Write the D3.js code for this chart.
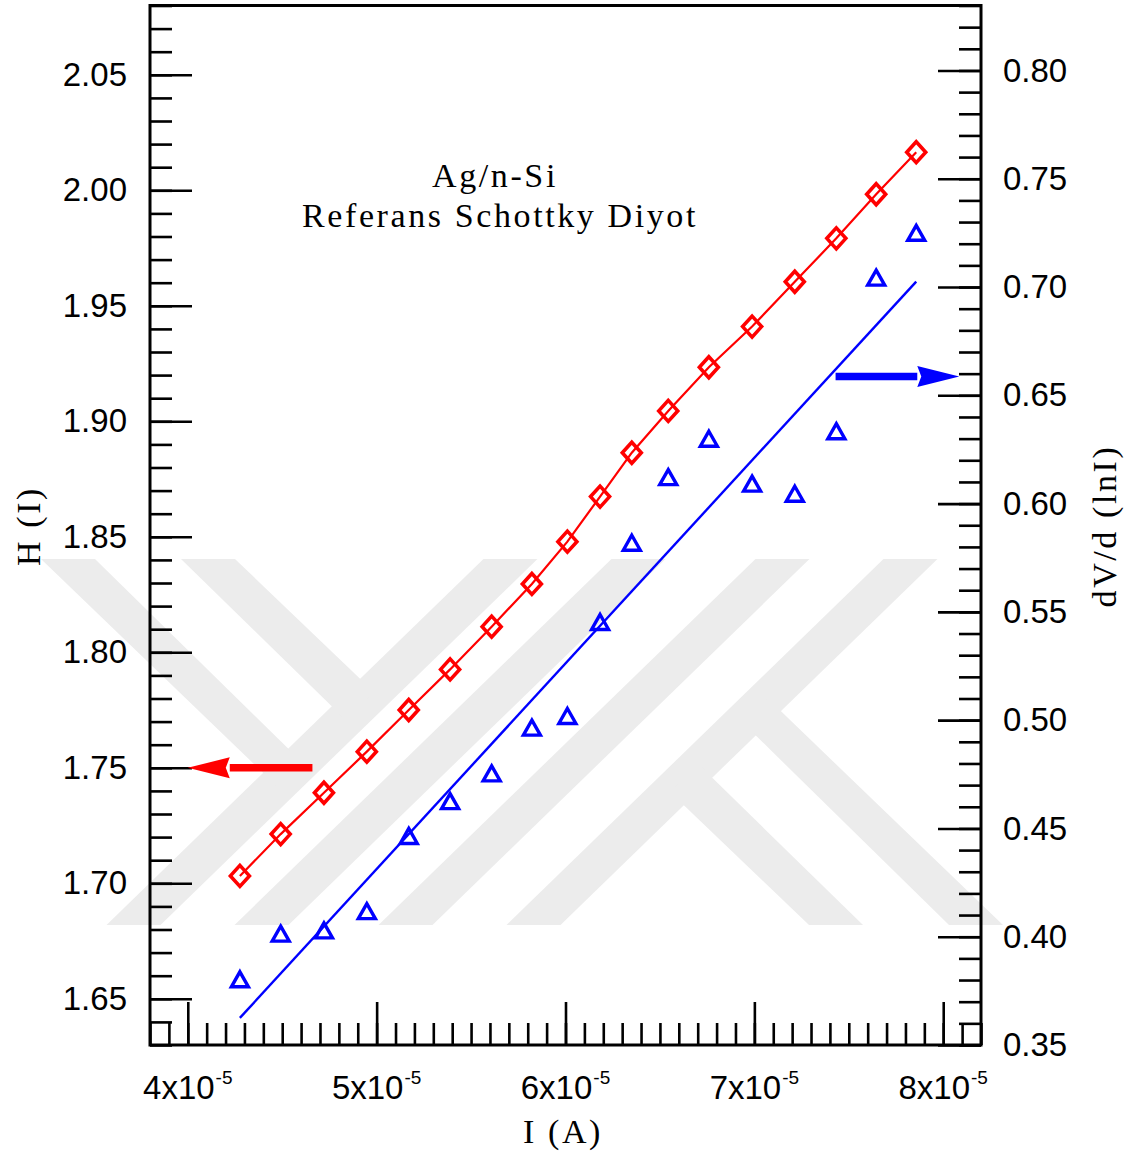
<!DOCTYPE html>
<html>
<head>
<meta charset="utf-8">
<script src="https://cdn.jsdelivr.net/npm/d3@7"></script>
<style>
  body { margin: 0; background: #fff; }
  .tick text { font-family: "Liberation Sans", Arial, sans-serif; font-size: 33px; fill: #000; }
  .serif { font-family: "Liberation Serif", "Times New Roman", serif; font-size: 34px; letter-spacing: 2.6px; fill: #000; }
</style>
</head>
<body>
<svg id="chart"></svg>
<script>
// Current I (A), shared by both series
const currentA = [4.276e-5, 4.492e-5, 4.721e-5, 4.948e-5, 5.170e-5, 5.389e-5, 5.609e-5, 5.822e-5, 6.010e-5,
    6.183e-5, 6.351e-5, 6.544e-5, 6.759e-5, 6.988e-5, 7.214e-5, 7.434e-5, 7.645e-5, 7.857e-5]
// H(I), left axis
const hValues = [1.7032, 1.7213, 1.7392, 1.7570, 1.7750, 1.7926, 1.8111, 1.8296, 1.8479,
    1.8674, 1.8864, 1.9045, 1.9234, 1.9410, 1.9604, 1.9792, 1.9983, 2.0165]
// dV/d(lnI), right axis
const dvValues = [0.3801, 0.4012, 0.4027, 0.4116, 0.4463, 0.4624, 0.4752, 0.4963, 0.5017,
    0.5451, 0.5817, 0.6120, 0.6297, 0.6090, 0.6043, 0.6332, 0.7041, 0.7248]
// linear fit of dV/d(lnI)
const dvFitI = [4.276e-5, 7.857e-5]
const dvFitValues = [0.3625, 0.7025]

// tick values
const xMajor = [4e-5, 5e-5, 6e-5, 7e-5, 8e-5]
const xMinor = d3.range(38, 83).map(d => d / 1e6)
const hMajor = [1.65, 1.70, 1.75, 1.80, 1.85, 1.90, 1.95, 2.00, 2.05]
const hMinor = d3.range(163, 209).map(d => d / 100)
const dvMajor = [0.35, 0.40, 0.45, 0.50, 0.55, 0.60, 0.65, 0.70, 0.75, 0.80]
const dvMinor = d3.range(35, 84).map(d => d / 100)

// axis arrows: [from, to] in current, at a level of the axis they point to
const hArrowI = [4.66e-5, 4.0e-5], hArrowLevel = 1.75
const dvArrowI = [7.43e-5, 8.085e-5], dvArrowLevel = 0.6587

const width = 1143, height = 1160
const plot = { left: 150, right: 981, top: 5.5, bottom: 1045 }

const svg = d3.select('#chart').attr('width', width).attr('height', height)

const x = d3.scaleLinear().domain([3.8e-5, 8.2e-5]).range([plot.left, plot.right])
const yH = d3.scaleLinear().domain([1.63, 2.08]).range([plot.bottom, plot.top])
const yD = d3.scaleLinear().domain([0.35, 0.83]).range([plot.bottom, plot.top])

// background watermark (grey stripes), half drawn then rotated for the other half
const k = 1.03, wy0 = 559, wy1 = 925, wcx = 522, wcy = 742, ww = 27
const band = xm => [[xm + k * (wcy - wy0) - ww, wy0], [xm + k * (wcy - wy0) + ww, wy0],
    [xm - k * (wy1 - wcy) + ww, wy1], [xm - k * (wy1 - wcy) - ww, wy1]]
const half = [band(594), band(722),
    [[767.3, 698.1], [1003, 925], [949, 925], [742.3, 722.3]],
    [[698.7, 764.6], [863, 925], [809, 925], [670.3, 792.2]]]
const wm = svg.append('g').attr('fill', '#ececec')
;['', `rotate(180, ${wcx}, ${wcy})`].forEach(tr => {
    wm.append('g').attr('transform', tr).selectAll('polygon')
        .data(half).join('polygon')
        .attr('points', d => d.map(p => p.join(',')).join(' '))
})

// axes
function styleAxis(g) {
    g.select('.domain').remove()
    g.selectAll('.tick line').attr('stroke', '#000').attr('stroke-width', 2.6)
}
svg.append('g').attr('transform', `translate(${plot.left},0)`)
    .call(d3.axisLeft(yH).tickValues(hMinor).tickSize(-22).tickFormat('')).call(styleAxis)
svg.append('g').attr('transform', `translate(${plot.left},0)`)
    .call(d3.axisLeft(yH).tickValues(hMajor).tickSize(-42).tickPadding(23).tickFormat(d3.format('.2f'))).call(styleAxis)
svg.append('g').attr('transform', `translate(${plot.right},0)`)
    .call(d3.axisRight(yD).tickValues(dvMinor).tickSize(-22).tickFormat('')).call(styleAxis)
svg.append('g').attr('transform', `translate(${plot.right},0)`)
    .call(d3.axisRight(yD).tickValues(dvMajor).tickSize(-43).tickPadding(22).tickFormat(d3.format('.2f'))).call(styleAxis)
svg.append('g').attr('transform', `translate(0,${plot.bottom})`)
    .call(d3.axisBottom(x).tickValues(xMinor).tickSize(-22).tickFormat('')).call(styleAxis)
svg.append('g').attr('transform', `translate(0,${plot.bottom})`)
    .call(d3.axisBottom(x).tickValues(xMajor).tickSize(-43).tickFormat('')).call(styleAxis)

// x tick labels with exponent
const xLab = svg.append('g').selectAll('text').data(xMajor).join('text')
    .attr('x', d => x(d)).attr('y', 1099).attr('text-anchor', 'middle')
    .style('font-family', '"Liberation Sans", Arial, sans-serif').style('font-size', '33px')
xLab.append('tspan').text(d => `${Math.round(d * 1e5)}x10`)
xLab.append('tspan').attr('dy', -15).attr('dx', 1).style('font-size', '19px').text('-5')

// frame
svg.append('rect')
    .attr('x', plot.left).attr('y', plot.top)
    .attr('width', plot.right - plot.left).attr('height', plot.bottom - plot.top)
    .attr('fill', 'none').attr('stroke', '#000').attr('stroke-width', 3)

// H(I) series
const hData = currentA.map((c, i) => [c, hValues[i]])
svg.append('path').datum(hData)
    .attr('fill', 'none').attr('stroke', '#ff0000').attr('stroke-width', 2.2)
    .attr('d', d3.line().x(d => x(d[0])).y(d => yH(d[1])))
svg.append('g').selectAll('path').data(hData).join('path')
    .attr('transform', d => `translate(${x(d[0])},${yH(d[1])})`)
    .attr('d', 'M0,-10.5L9.5,0L0,10.5L-9.5,0Z')
    .attr('fill', 'none').attr('stroke', '#ff0000').attr('stroke-width', 3.6)

// dV/d(lnI) series
svg.append('path').datum(dvFitI.map((c, i) => [c, dvFitValues[i]]))
    .attr('fill', 'none').attr('stroke', '#0000ff').attr('stroke-width', 2.4)
    .attr('d', d3.line().x(d => x(d[0])).y(d => yD(d[1])))
svg.append('g').selectAll('path').data(currentA.map((c, i) => [c, dvValues[i]])).join('path')
    .attr('transform', d => `translate(${x(d[0])},${yD(d[1])})`)
    .attr('d', 'M0,-8L8.5,7L-8.5,7Z')
    .attr('fill', 'none').attr('stroke', '#0000ff').attr('stroke-width', 3.4)

// arrows pointing to each axis
function arrow(from, to, py, color) {
    const x0 = x(from), x1 = x(to), dir = Math.sign(x1 - x0), base = x1 - dir * 42
    svg.append('line').attr('x1', x0).attr('x2', base).attr('y1', py).attr('y2', py)
        .attr('stroke', color).attr('stroke-width', 7.5)
    svg.append('path')
        .attr('d', `M${x1},${py}L${base},${py - 10.5}L${base + dir * 4},${py}L${base},${py + 10.5}Z`)
        .attr('fill', color)
}
arrow(hArrowI[0], hArrowI[1], yH(hArrowLevel), '#ff0000')
arrow(dvArrowI[0], dvArrowI[1], yD(dvArrowLevel), '#0000ff')

// texts
svg.append('text').attr('class', 'serif').attr('x', 495).attr('y', 187).attr('text-anchor', 'middle').text('Ag/n-Si')
svg.append('text').attr('class', 'serif').attr('x', 500).attr('y', 227).attr('text-anchor', 'middle').text('Referans Schottky Diyot')
svg.append('text').attr('class', 'serif').attr('x', 563).attr('y', 1143).attr('text-anchor', 'middle').text('I (A)')
svg.append('text').attr('class', 'serif').attr('text-anchor', 'middle')
    .attr('transform', 'translate(40,526) rotate(-90)').text('H (I)')
svg.append('text').attr('class', 'serif').attr('text-anchor', 'middle')
    .attr('transform', 'translate(1116,526) rotate(-90)').text('dV/d (lnI)')
</script>
</body>
</html>
